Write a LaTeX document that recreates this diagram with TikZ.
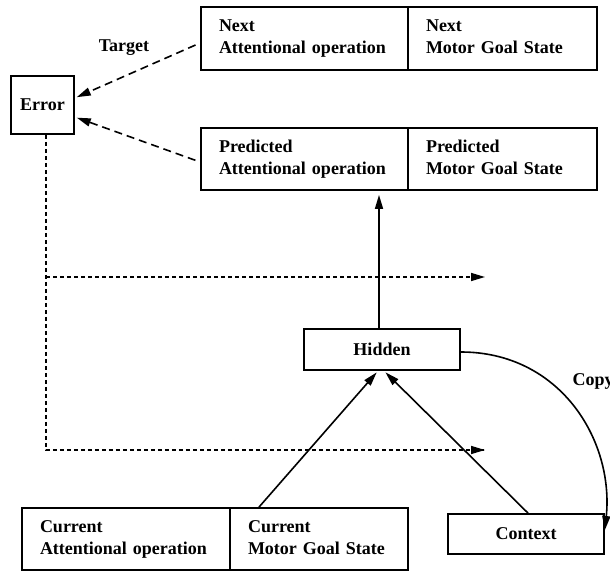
\documentclass[tikz,border=0pt]{standalone}
\usepackage{fontspec}
\setmainfont{Liberation Serif}
\usetikzlibrary{arrows.meta}
\begin{document}
\begin{tikzpicture}[x=1pt,y=-1pt,
  every node/.style={font=\fontsize{18}{22}\selectfont\bfseries},
  box/.style={draw,line width=1.8pt,inner sep=0pt,minimum height=#1},
  half/.style={box=62pt,align=left,inner xsep=18pt,text width=#1-36pt,minimum width=#1},
  tip/.style={-{Triangle[length=14pt,width=8pt]}},
  solidarr/.style={tip,line width=1.6pt},
  longdash/.style={tip,line width=1.6pt,dash pattern=on 8pt off 5pt},
  shortdash/.style={line width=1.6pt,dash pattern=on 4pt off 3pt}]
\useasboundingbox (0,0) rectangle (610,572);

% error node
\node[box=58pt,minimum width=63pt] (err) at (42.5,105) {Error};

% next targets
\node[half=207pt,minimum height=63pt] (nextA) at (304.5,38.5) {\strut Next\\Attentional operation\strut};
\node[half=189pt,minimum height=63pt] (nextM) at (502.5,38.5) {\strut Next\\Motor Goal State\strut};

% predicted outputs
\node[half=207pt] (predA) at (304.5,159) {\strut Predicted\\Attentional operation\strut};
\node[half=189pt] (predM) at (502.5,159) {\strut Predicted\\Motor Goal State\strut};

% hidden and context layers
\node[box=41pt,minimum width=156pt] (hid) at (382,349.5) {Hidden};
\node[box=40pt,minimum width=156pt] (ctx) at (526,534) {Context};

% current inputs
\node[half=208pt] (curA) at (126,539) {\strut Current\\Attentional operation\strut};
\node[half=178pt] (curM) at (319,539) {\strut Current\\Motor Goal State\strut};

% labels
\node (target) at (124,48) {Target};
\node[anchor=west] (copy) at (569,381) {Copy};

% target and prediction feed the error
\draw[longdash,shorten <=5pt,shorten >=2pt] ([yshift=-4.5pt]nextA.west) -- ([yshift=7pt]err.east);
\draw[longdash,shorten <=5pt,shorten >=2pt] ([yshift=-3pt]predA.west) -- ([yshift=-12pt]err.east);

% error propagated back
\coordinate (branch) at (46,277);
\coordinate (midtip) at (485,277);
\coordinate (lowtip) at (485,450);
\draw[shortdash] ([xshift=3.5pt]err.south) |- (lowtip);
\draw[shortdash,tip] (branch) -- (midtip);
\draw[shortdash,tip] ([xshift=-8pt]lowtip) -- (lowtip);

% forward connections
\draw[solidarr,shorten >=4pt] ([xshift=-3pt]hid.north) -- ([xshift=-3pt]hid.north |- predA.south);
\draw[solidarr,shorten >=2pt] ([xshift=-60pt]curM.north) -- ([xshift=-4pt]hid.south);
\draw[solidarr,shorten >=2pt] ([xshift=2pt]ctx.north) -- ([xshift=2pt]hid.south);

% copy hidden into context
\draw[solidarr] ([yshift=-2.5pt]hid.east) .. controls (560,352) and (614,440) .. ([yshift=4pt]ctx.east);
\end{tikzpicture}
\end{document}
